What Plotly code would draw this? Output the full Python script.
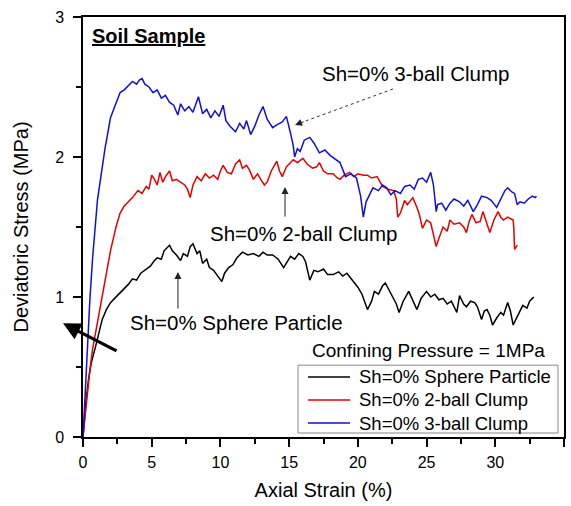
import plotly.graph_objects as go

# ---- data ----
strain_sphere = [0, 0.1, 0.2, 0.4, 0.6, 0.9, 1.2, 1.4, 1.7, 2.0,
                 2.3, 2.5, 2.7, 3.0, 3.3, 3.6, 3.9, 4.2, 4.6, 4.9,
                 5.2, 5.4, 5.7, 5.9, 6.1, 6.3, 6.5, 6.8, 7.1, 7.3,
                 7.6, 7.8, 8.0, 8.3, 8.5, 8.7, 9.0, 9.2, 9.5, 9.8,
                 10.1, 10.3, 10.6, 10.9, 11.2, 11.6, 12.0, 12.4, 12.8, 13.1,
                 13.4, 13.8, 14.2, 14.6, 14.9, 15.1, 15.4, 15.7, 16.0, 16.2,
                 16.5, 16.8, 17.1, 17.5, 17.8, 18.2, 18.6, 18.9, 19.2, 19.6,
                 20.0, 20.3, 20.7, 21.0, 21.2, 21.5, 21.8, 22.0, 22.3, 22.5,
                 22.8, 23.0, 23.3, 23.7, 24.0, 24.3, 24.6, 25.0, 25.3, 25.6,
                 25.9, 26.2, 26.5, 26.8, 27.2, 27.4, 27.7, 27.9, 28.2, 28.5,
                 28.7, 29.0, 29.2, 29.4, 29.6, 29.8, 30.1, 30.4, 30.6, 30.9,
                 31.1, 31.3, 31.6, 32.0, 32.3, 32.5, 32.7, 32.8]
stress_sphere = [0, 0.12, 0.24, 0.41, 0.53, 0.64, 0.76, 0.84, 0.91, 0.96,
                 0.99, 1.01, 1.03, 1.06, 1.09, 1.13, 1.12, 1.17, 1.20, 1.22,
                 1.26, 1.28, 1.27, 1.33, 1.35, 1.37, 1.33, 1.30, 1.26, 1.31,
                 1.29, 1.36, 1.38, 1.31, 1.33, 1.24, 1.27, 1.21, 1.19, 1.15,
                 1.11, 1.17, 1.21, 1.23, 1.28, 1.32, 1.30, 1.31, 1.29, 1.32,
                 1.30, 1.30, 1.27, 1.21, 1.26, 1.29, 1.27, 1.31, 1.29, 1.25,
                 1.12, 1.19, 1.18, 1.20, 1.16, 1.16, 1.18, 1.15, 1.17, 1.12,
                 1.07, 1.02, 0.91, 0.97, 1.04, 1.02, 1.08, 1.10, 1.04, 1.01,
                 0.95, 0.89, 0.97, 1.04, 0.98, 0.91, 0.99, 1.04, 1.00, 1.02,
                 0.98, 0.99, 0.95, 0.97, 0.89, 1.01, 0.95, 0.93, 0.97, 0.96,
                 0.93, 0.84, 0.90, 0.91, 0.87, 0.80, 0.85, 0.89, 0.87, 0.96,
                 0.90, 0.80, 0.86, 0.94, 0.92, 0.97, 0.99, 1.00]

strain_2ball = [0, 0.1, 0.2, 0.35, 0.5, 0.7, 1.0, 1.3, 1.6, 2.0,
                2.4, 2.7, 3.0, 3.3, 3.6, 4.0, 4.3, 4.6, 4.8, 5.0,
                5.2, 5.4, 5.6, 5.8, 6.0, 6.3, 6.5, 6.8, 7.1, 7.4,
                7.6, 7.8, 8.0, 8.3, 8.6, 8.9, 9.2, 9.5, 9.8, 10.0,
                10.2, 10.5, 10.8, 11.1, 11.4, 11.6, 11.9, 12.1, 12.4, 12.7,
                13.0, 13.2, 13.4, 13.7, 14.1, 14.3, 14.5, 14.8, 15.0, 15.3,
                15.6, 16.0, 16.3, 16.7, 17.0, 17.2, 17.5, 17.8, 18.2, 18.5,
                18.7, 19.0, 19.4, 19.7, 20.0, 20.4, 20.7, 21.0, 21.4, 21.8,
                22.2, 22.6, 22.8, 22.9, 23.1, 23.4, 23.6, 24.0, 24.3, 24.5,
                24.7, 25.0, 25.3, 25.5, 25.7, 25.9, 26.2, 26.5, 26.7, 27.0,
                27.4, 27.7, 27.9, 28.1, 28.3, 28.6, 28.9, 29.1, 29.4, 29.6,
                29.9, 30.2, 30.4, 30.6, 30.9, 31.1, 31.3, 31.35, 31.4, 31.6]
stress_2ball = [0, 0.10, 0.20, 0.36, 0.48, 0.63, 0.79, 0.96, 1.12, 1.33,
                1.50, 1.60, 1.65, 1.68, 1.71, 1.76, 1.74, 1.79, 1.77, 1.87,
                1.84, 1.80, 1.89, 1.82, 1.86, 1.90, 1.83, 1.84, 1.82, 1.80,
                1.77, 1.71, 1.80, 1.86, 1.83, 1.88, 1.85, 1.87, 1.84, 1.90,
                1.94, 1.89, 1.88, 1.95, 1.98, 1.92, 1.94, 1.91, 1.84, 1.88,
                1.83, 1.80, 1.82, 1.90, 1.97, 1.90, 1.86, 1.93, 1.95, 1.98,
                1.96, 1.99, 1.95, 1.92, 1.93, 1.96, 1.90, 1.88, 1.88, 1.85,
                1.84, 1.87, 1.89, 1.86, 1.88, 1.87, 1.87, 1.85, 1.86, 1.79,
                1.77, 1.76, 1.70, 1.57, 1.60, 1.69, 1.66, 1.71, 1.64, 1.58,
                1.49, 1.55, 1.53, 1.45, 1.36, 1.42, 1.50, 1.47, 1.55, 1.52,
                1.53, 1.50, 1.46, 1.54, 1.59, 1.53, 1.54, 1.61, 1.52, 1.46,
                1.55, 1.61, 1.57, 1.55, 1.57, 1.56, 1.55, 1.49, 1.34, 1.37]

strain_3ball = [0, 0.15, 0.3, 0.5, 0.7, 0.9, 1.05, 1.3, 1.6, 2.0,
                2.3, 2.7, 3.0, 3.3, 3.6, 3.9, 4.1, 4.3, 4.5, 4.8,
                5.1, 5.4, 5.7, 6.0, 6.3, 6.6, 6.9, 7.1, 7.4, 7.7,
                8.0, 8.4, 8.7, 9.0, 9.3, 9.6, 9.9, 10.2, 10.4, 10.7,
                11.1, 11.4, 11.7, 11.9, 12.2, 12.5, 12.8, 13.1, 13.4, 13.8,
                14.1, 14.5, 14.8, 15.1, 15.3, 15.4, 15.6, 15.8, 16.1, 16.5,
                16.8, 17.2, 17.6, 18.0, 18.4, 18.7, 19.1, 19.5, 19.9, 20.2,
                20.4, 20.6, 20.9, 21.1, 21.5, 21.8, 22.1, 22.4, 22.7, 23.1,
                23.4, 23.8, 24.1, 24.4, 24.7, 25.0, 25.3, 25.5, 25.7, 25.8,
                26.1, 26.4, 26.7, 27.0, 27.4, 27.7, 28.0, 28.4, 28.7, 29.0,
                29.4, 29.7, 30.1, 30.4, 30.7, 30.9, 31.2, 31.4, 31.6, 31.8,
                32.1, 32.4, 32.7, 32.9, 33.0]
stress_3ball = [0, 0.32, 0.62, 0.98, 1.28, 1.52, 1.69, 1.86, 2.06, 2.28,
                2.36, 2.46, 2.48, 2.51, 2.54, 2.52, 2.55, 2.56, 2.52, 2.50,
                2.46, 2.48, 2.42, 2.44, 2.39, 2.37, 2.30, 2.38, 2.33, 2.36,
                2.32, 2.43, 2.31, 2.34, 2.28, 2.33, 2.29, 2.37, 2.26, 2.22,
                2.18, 2.24, 2.20, 2.26, 2.16, 2.22, 2.30, 2.36, 2.27, 2.21,
                2.23, 2.25, 2.29, 2.17, 2.08, 2.00, 2.06, 2.04, 2.12, 2.14,
                2.10, 2.03, 2.05, 2.01, 1.98, 1.96, 1.86, 1.88, 1.85, 1.72,
                1.57, 1.68, 1.74, 1.78, 1.76, 1.80, 1.78, 1.73, 1.76, 1.74,
                1.79, 1.80, 1.77, 1.84, 1.85, 1.82, 1.89, 1.80, 1.61, 1.66,
                1.67, 1.62, 1.67, 1.70, 1.68, 1.65, 1.69, 1.61, 1.66, 1.72,
                1.71, 1.69, 1.64, 1.70, 1.76, 1.78, 1.75, 1.74, 1.66, 1.68,
                1.67, 1.70, 1.72, 1.71, 1.72]

series_names = ["Sh=0% Sphere Particle", "Sh=0% 2-ball Clump", "Sh=0% 3-ball Clump"]
series_colors = ["#000000", "#e60000", "#1010d8"]

FONT = "Liberation Sans, Arial, sans-serif"

fig = go.Figure()
for xs, ys, name, col in zip([strain_sphere, strain_2ball, strain_3ball],
                             [stress_sphere, stress_2ball, stress_3ball],
                             series_names, series_colors):
    fig.add_trace(go.Scatter(x=xs, y=ys, mode="lines", name=name,
                             line=dict(color=col, width=1.5), showlegend=False))

axis_common = dict(showline=True, linecolor="black", linewidth=1.5, mirror=True,
                   ticks="outside", ticklen=8, tickwidth=1.5, tickcolor="black",
                   showgrid=False, zeroline=False,
                   tickfont=dict(family=FONT, size=16, color="black"))

fig.update_xaxes(range=[0, 35], dtick=5, tick0=0, ticklabelstandoff=2,
                 minor=dict(dtick=2.5, ticks="outside", ticklen=5, tickwidth=1.5, tickcolor="black"),
                 title=dict(text="Axial Strain (%)", font=dict(family=FONT, size=20, color="black"), standoff=13),
                 **axis_common)
fig.update_yaxes(range=[0, 3], dtick=1, tick0=0, ticklabelstandoff=6,
                 minor=dict(dtick=0.5, ticks="outside", ticklen=5, tickwidth=1.5, tickcolor="black"),
                 title=dict(text="Deviatoric Stress (MPa)", font=dict(family=FONT, size=20, color="black"), standoff=21),
                 **axis_common)

ann_font = dict(family=FONT, size=20.5, color="black")
annotations = [
    dict(x=0.0146, y=0.955, xref="paper", yref="paper", xanchor="left", yanchor="middle",
         text="<b><u>Soil Sample</u></b>", showarrow=False,
         font=dict(family=FONT, size=20, color="black")),
    dict(x=24.2, y=2.593, xref="x", yref="y", xanchor="center", yanchor="middle",
         text="Sh=0% 3-ball Clump", showarrow=False, font=ann_font),
    dict(x=16.05, y=1.457, xref="x", yref="y", xanchor="center", yanchor="middle",
         text="Sh=0% 2-ball Clump", showarrow=False, font=ann_font),
    dict(x=11.16, y=0.821, xref="x", yref="y", xanchor="center", yanchor="middle",
         text="Sh=0% Sphere Particle", showarrow=False, font=ann_font),
    dict(x=0.719, y=0.205, xref="paper", yref="paper", xanchor="center", yanchor="middle",
         text="Confining Pressure = 1MPa", showarrow=False,
         font=dict(family=FONT, size=19, color="black")),
    # arrow heads / arrows
    dict(x=15.43, y=2.229, xref="x", yref="y", ax=10, ay=-3.7, text="", showarrow=True,
         arrowhead=2, arrowsize=1.4, arrowwidth=1, arrowcolor="#222"),
    dict(x=14.70, y=1.786, xref="x", yref="y", ax=14.70, ay=1.564, axref="x", ayref="y", text="",
         showarrow=True, arrowhead=2, arrowsize=1.4, arrowwidth=1, arrowcolor="#222"),
    dict(x=6.91, y=1.179, xref="x", yref="y", ax=6.91, ay=0.907, axref="x", ayref="y", text="",
         showarrow=True, arrowhead=2, arrowsize=1.4, arrowwidth=1, arrowcolor="#222"),
    dict(x=-0.0416, y=0.2707, xref="paper", yref="paper", ax=55, ay=28.4, text="",
         showarrow=True, arrowhead=2, arrowsize=1.1, arrowwidth=3.2, arrowcolor="black"),
]

shapes = [
    dict(type="line", xref="x", yref="y", x0=22.56, y0=2.486, x1=16.0, y1=2.25,
         line=dict(color="#333", width=1, dash="dot")),
]

# ---- legend box (drawn to match the reference's compact legend) ----
LEG_X0, LEG_X1, LEG_Y0, LEG_Y1 = 0.447, 0.9875, 0.0095, 0.171
LEG_TOP_ITEM, LEG_STEP = 0.1429, 0.0548
SAMPLE_X0, SAMPLE_X1, TEXT_X = 0.4678, 0.5551, 0.5696
shapes.append(dict(type="rect", xref="paper", yref="paper", x0=LEG_X0, x1=LEG_X1, y0=LEG_Y0, y1=LEG_Y1,
                   line=dict(color="#888", width=1), fillcolor="rgba(0,0,0,0)"))
for i, (name, col) in enumerate(zip(series_names, series_colors)):
    yy = LEG_TOP_ITEM - i * LEG_STEP
    shapes.append(dict(type="line", xref="paper", yref="paper", x0=SAMPLE_X0, x1=SAMPLE_X1, y0=yy, y1=yy,
                       line=dict(color=col, width=1.3)))
    annotations.append(dict(x=TEXT_X, y=yy, xref="paper", yref="paper", xanchor="left", yanchor="middle",
                            text=name, showarrow=False,
                            font=dict(family=FONT, size=18.5, color="black")))

fig.update_layout(
    width=571, height=506,
    margin=dict(l=83, r=7, t=17, b=69, autoexpand=False),
    paper_bgcolor="white", plot_bgcolor="white",
    showlegend=False,
    annotations=annotations,
    shapes=shapes,
    font=dict(family=FONT),
)

fig.write_html("out.html")
